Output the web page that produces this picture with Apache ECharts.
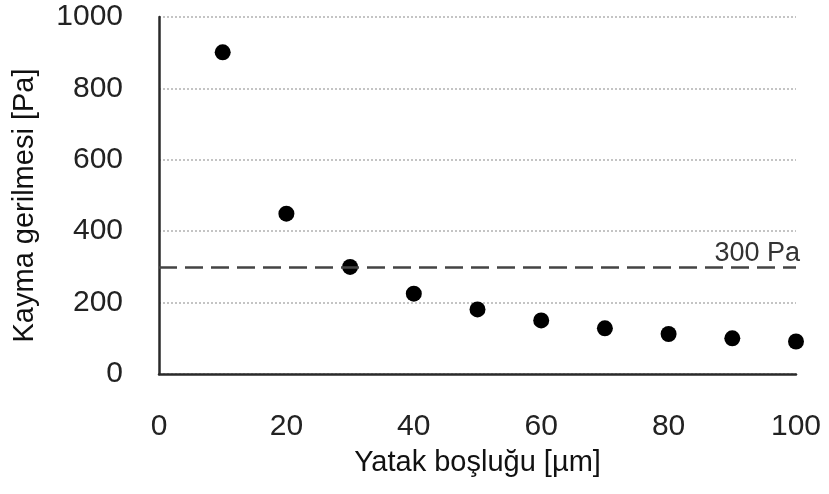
<!DOCTYPE html>
<html>
<head>
<meta charset="utf-8">
<script src="https://cdn.jsdelivr.net/npm/echarts@6/dist/echarts.min.js"></script>
<style>html,body{margin:0;padding:0;background:#fff}#c{width:829px;height:494px}</style>
</head>
<body>
<div id="c"></div>
<script>
var gapValues = [10, 20, 30, 40, 50, 60, 70, 80, 90, 100];
var stressValues = [901, 449, 300, 225, 181, 150, 128, 112, 100, 91];
var thresholdValue = 300;
var thresholdLabel = '300 Pa';
var xTitle = 'Yatak boşluğu [µm]';
var yTitle = 'Kayma gerilmesi [Pa]';

var pts = gapValues.map(function (x, i) { return [x, stressValues[i]]; });
var chart = echarts.init(document.getElementById('c'), null, { renderer: 'canvas' });
var font = 'Liberation Sans, Arial, sans-serif';
chart.setOption({
  animation: false,
  backgroundColor: '#fff',
  grid: { left: 159, right: 33, top: 17, bottom: 120, containLabel: false },
  xAxis: {
    type: 'value', min: 0, max: 100, interval: 20,
    name: xTitle, nameLocation: 'middle', nameGap: 74,
    nameTextStyle: { fontFamily: font, fontSize: 29, color: '#111' },
    axisLine: { show: true, lineStyle: { color: '#2a2a2a', width: 2.5 } },
    axisTick: { show: false },
    splitLine: { show: false },
    axisLabel: { fontFamily: font, fontSize: 30, color: '#222', margin: 38,
      formatter: function (v) { return String(v); } }
  },
  yAxis: {
    type: 'value', min: 0, max: 1000, interval: 200,
    name: yTitle, nameLocation: 'middle', nameGap: 120,
    nameTextStyle: { fontFamily: font, fontSize: 29, color: '#111', padding: [0, 20, 0, 0] },
    axisLine: { show: true, lineStyle: { color: '#2a2a2a', width: 2.5 } },
    axisTick: { show: false },
    splitLine: { show: true, lineStyle: { color: '#c4c4c4', width: 2, type: [2, 2] } },
    axisLabel: { fontFamily: font, fontSize: 30, color: '#222', margin: 36,
      formatter: function (v) { return String(v); } }
  },
  series: [{
    type: 'scatter',
    data: pts,
    symbol: 'circle',
    symbolSize: 16,
    itemStyle: { color: '#000', opacity: 1 },
    markLine: {
      silent: true,
      symbol: 'none',
      lineStyle: { color: '#444', width: 2.5, type: [18, 8] },
      label: {
        show: true, position: 'insideEndTop', formatter: thresholdLabel,
        fontFamily: font, fontSize: 27, color: '#333', distance: [-4, 0]
      },
      data: [{ yAxis: thresholdValue }]
    }
  }]
});
</script>
</body>
</html>
